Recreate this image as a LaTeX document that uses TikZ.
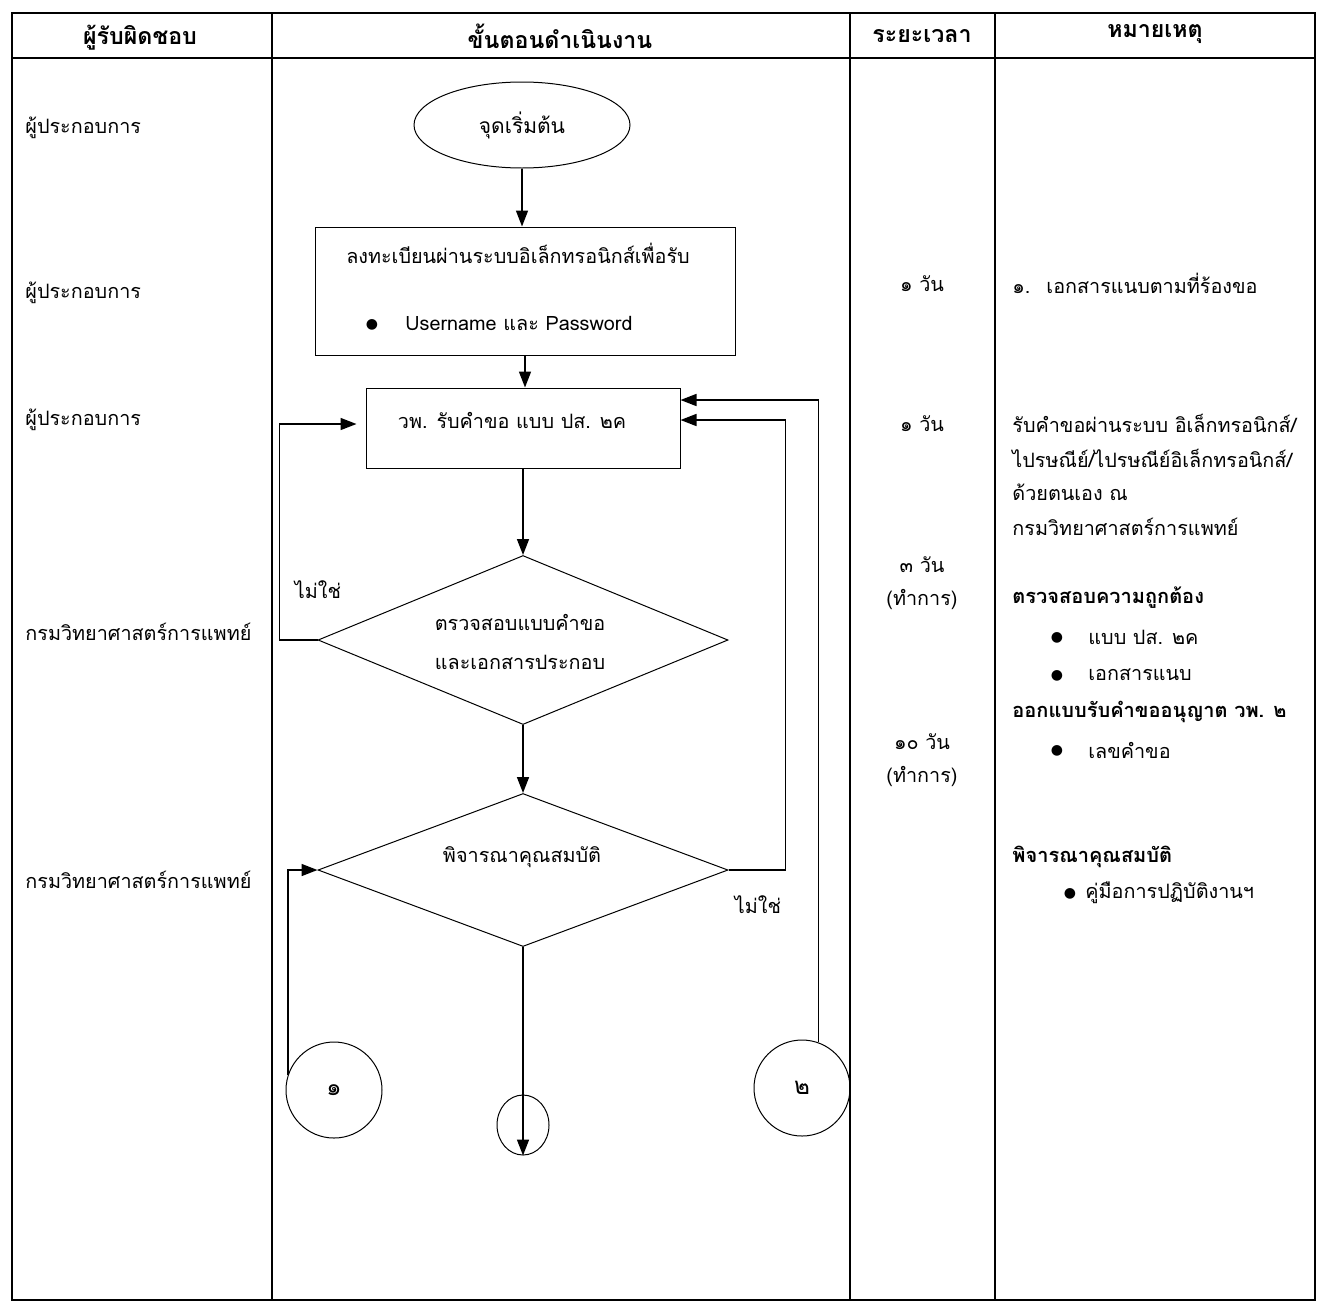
\documentclass[tikz,border=0pt]{standalone}
\usepackage{fontspec}
\setmainfont[Script=Thai]{Loma}
\newfontfamily\dvs{DejaVu Sans}
\usetikzlibrary{shapes.geometric,arrows.meta}
\begin{document}
\begin{tikzpicture}[x=0.5pt,y=-0.5pt,
  tbl/.style={line width=1pt},
  shp/.style={draw, line width=0.5pt, inner sep=0pt},
  arr/.style={line width=0.8pt, -{Triangle[length=8pt,width=6pt]}},
  txt/.style={font=\fontsize{9.9}{12}\selectfont, inner sep=0pt},
  btxt/.style={font=\fontsize{10}{12}\selectfont\bfseries, inner sep=0pt},
  hdr/.style={font=\fontsize{11.6}{14}\selectfont\bfseries, inner sep=0pt},
  bul/.style={font=\dvs\fontsize{7}{8}\selectfont, inner sep=0pt},
]
\useasboundingbox (0,0) rectangle (1325,1307);
% table
\draw[tbl] (12,13) rectangle (1315,1300);
\draw[tbl] (12,58) -- (1315,58);
\draw[tbl] (272,13) -- (272,1300);
\draw[tbl] (850,13) -- (850,1300);
\draw[tbl] (995,13) -- (995,1300);
% headers
\node[hdr] (h1) at (140,38) {ผู้รับผิดชอบ};
\node[hdr] (h2) at (560,36) {ขั้นตอนดำเนินงาน};
\node[hdr] (h3) at (922,36) {ระยะเวลา};
\node[hdr] (h4) at (1155,34) {หมายเหตุ};
% responsible
\node[txt, anchor=west] (r1) at (25,128) {ผู้ประกอบการ};
\node[txt, anchor=west] (r2) at (25,293) {ผู้ประกอบการ};
\node[txt, anchor=west] (r3) at (25,420) {ผู้ประกอบการ};
\node[txt, anchor=west] (r4) at (25,632) {กรมวิทยาศาสตร์การแพทย์};
\node[txt, anchor=west] (r5) at (25,880) {กรมวิทยาศาสตร์การแพทย์};
% flow
\node[shp, ellipse, minimum width=108pt, minimum height=43pt, font=\fontsize{10.5}{13}\selectfont] (start) at (522,125) {จุดเริ่มต้น};
\node[shp, rectangle, minimum width=210pt, minimum height=64pt] (b1) at (525,291) {};
\node[txt] (b1t1) at (518,253) {ลงทะเบียนผ่านระบบอิเล็กทรอนิกส์เพื่อรับ};
\node[bul] (b1b) at (372,325) {●};
\node[txt, anchor=west] (b1t2) at (405,323) {Username และ Password};
\node[shp, rectangle, minimum width=157pt, minimum height=40pt] (b2) at (523,428) {};
\node[txt] (b2t) at (512,420) {วพ. รับคำขอ แบบ ปส. ๒ค};
\node[shp, diamond, minimum width=205pt, minimum height=84.5pt] (d1) at (523,640) {};
\node[txt] (d1t1) at (520,622) {ตรวจสอบแบบคำขอ};
\node[txt] (d1t2) at (520,662) {และเอกสารประกอบ};
\node[shp, diamond, minimum width=205pt, minimum height=76.5pt] (d2) at (523,870) {};
\node[txt] (d2t) at (522,857) {พิจารณาคุณสมบัติ};
\node[shp, circle, minimum size=48pt, font=\fontsize{12}{14}\selectfont] (c1) at (334,1090) {๑};
\node[shp, circle, minimum size=48pt, font=\fontsize{12}{14}\selectfont] (c2) at (802,1088) {๒};
\node[shp, ellipse, minimum width=26pt, minimum height=30pt] (end) at (523,1125) {};
\node[txt] (no1) at (318,590) {ไม่ใช่};
\node[txt] (no2) at (758,905) {ไม่ใช่};
% connectors
\draw[arr] (start.south) -- (start.south |- b1.north);
\draw[arr] (b1.south) -- (b1.south |- b2.north);
\draw[arr] (b2.south) -- (d1.north);
\draw[arr] (d1.south) -- (d2.north);
\draw[arr] (d2.south) -- (end.south);
\draw[arr] (d1.west) -- ++(-38,0) |- ([shift={(-9,-4)}]b2.west);
\draw[arr] (d2.east) -- ++(57,0) |- ([shift={(0,-8)}]b2.east);
\draw[arr] (c2.70) |- ([shift={(0,-28)}]b2.east);
\draw[arr] (c1.162) |- (d2.west);
% time
\node[txt] (t1) at (922,284) {๑ วัน};
\node[txt] (t2) at (922,424) {๑ วัน};
\node[txt] (t3) at (922,565) {๓ วัน};
\node[txt] (t3b) at (922,600) {(ทำการ)};
\node[txt] (t4) at (922,742) {๑๐ วัน};
\node[txt] (t4b) at (922,777) {(ทำการ)};
% remarks
\node[txt, anchor=west] (m1) at (1012,283) {๑.\hspace{8pt}เอกสารแนบตามที่ร้องขอ};
\node[txt, anchor=west] (m2) at (1012,423) {รับคำขอผ่านระบบ อิเล็กทรอนิกส์/};
\node[txt, anchor=west] (m3) at (1012,458) {ไปรษณีย์/ไปรษณีย์อิเล็กทรอนิกส์/};
\node[txt, anchor=west] (m4) at (1012,492) {ด้วยตนเอง ณ};
\node[txt, anchor=west] (m5) at (1012,527) {กรมวิทยาศาสตร์การแพทย์};
\node[btxt, anchor=west] (m6) at (1012,598) {ตรวจสอบความถูกต้อง};
\node[bul] (m7b) at (1057,638) {●};
\node[txt, anchor=west] (m7) at (1088,637) {แบบ ปส. ๒ค};
\node[bul] (m8b) at (1057,676) {●};
\node[txt, anchor=west] (m8) at (1088,675) {เอกสารแนบ};
\node[btxt, anchor=west] (m9) at (1012,712) {ออกแบบรับคำขออนุญาต วพ. ๒};
\node[bul] (m10b) at (1057,751) {●};
\node[txt, anchor=west] (m10) at (1088,750) {เลขคำขอ};
\node[btxt, anchor=west] (m11) at (1012,857) {พิจารณาคุณสมบัติ};
\node[bul] (m12b) at (1070,894) {●};
\node[txt, anchor=west] (m12) at (1085,893) {คู่มือการปฏิบัติงานฯ};
\end{tikzpicture}
\end{document}
